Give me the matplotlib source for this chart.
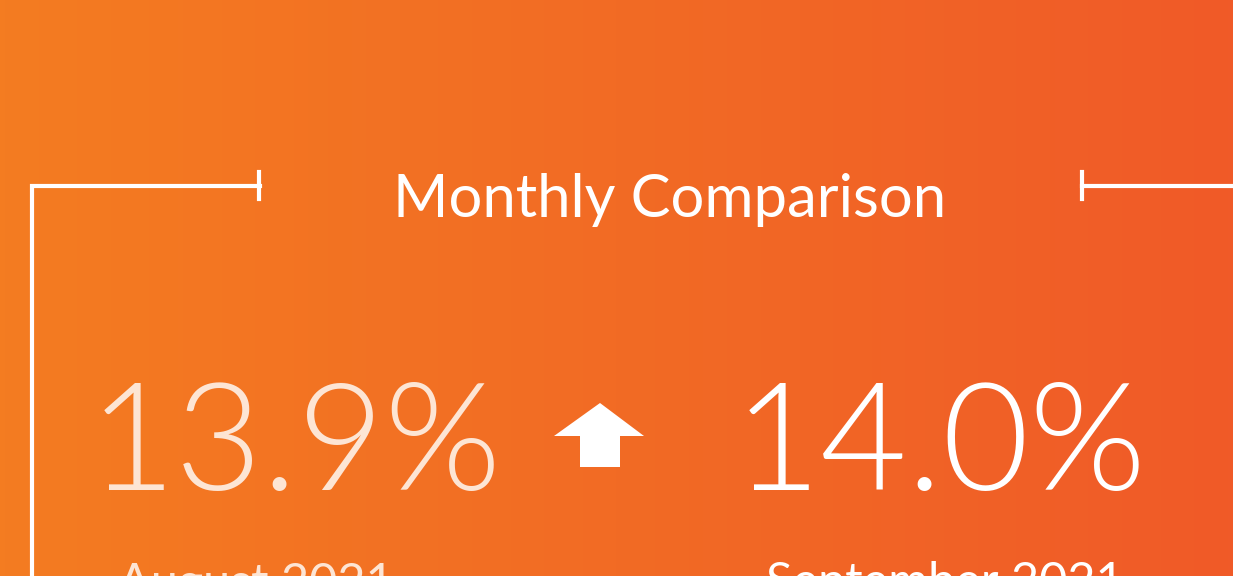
"""
Monthly comparison card: August vs September 2021.
"""
import numpy as np
import matplotlib
matplotlib.use("Agg")
import matplotlib.pyplot as plt
from matplotlib.colors import LinearSegmentedColormap
from matplotlib.patches import Polygon

plt.rcParams['font.family'] = ['Lato', 'DejaVu Sans']

W, H = 1233, 576
LEFT_COLOR = "#F47C21"
RIGHT_COLOR = "#F05A28"
WHITE = "#FFFFFF"
FADED = "#FDE5D4"

title = "Monthly Comparison"
months = ["August 2021", "September 2021"]
rates = [13.9, 14.0]

fig = plt.figure(figsize=(W / 100, H / 100), dpi=100)
ax = fig.add_axes([0, 0, 1, 1])
ax.set_xlim(0, W)
ax.set_ylim(H, 0)
ax.axis('off')

# background gradient, left to right
cmap = LinearSegmentedColormap.from_list('bg', [LEFT_COLOR, RIGHT_COLOR])
grad = np.linspace(0, 1, 256).reshape(1, -1)
ax.imshow(grad, cmap=cmap, aspect='auto', extent=[0, W, H, 0], zorder=0)

# bracket frame
lw = 3
ax.plot([32, 32, 260], [H + 5, 186, 186], color=WHITE, lw=lw, solid_joinstyle='miter')
ax.plot([259, 259], [172, 199], color=WHITE, lw=lw)
ax.plot([1082, W + 5], [186, 186], color=WHITE, lw=lw)
ax.plot([1082, 1082], [172, 199], color=WHITE, lw=lw)

ax.text(670, 217, title, color=WHITE, fontsize=43, ha='center', va='baseline')

# values
xs = [295, 940]
label_xs = [256, 945]
colors = [FADED, WHITE]
for x, lx, r, m, c in zip(xs, label_xs, rates, months, colors):
    ax.text(x, 490, f"{r:.1f}%", color=c, fontsize=108, fontweight=300,
            ha='center', va='baseline')
    ax.text(lx, 597, m, color=c, fontsize=35, ha='center', va='baseline')

# up arrow between the two values
direction = 'up' if rates[1] >= rates[0] else 'down'
arrow = [(600, 403), (644, 436), (620, 436), (620, 467), (580, 467), (580, 436), (554, 436)]
if direction == 'down':
    arrow = [(x, 870 - y) for x, y in arrow]
ax.add_patch(Polygon(arrow, closed=True, facecolor=WHITE, edgecolor='none'))

fig.savefig("out.png", dpi=100)
